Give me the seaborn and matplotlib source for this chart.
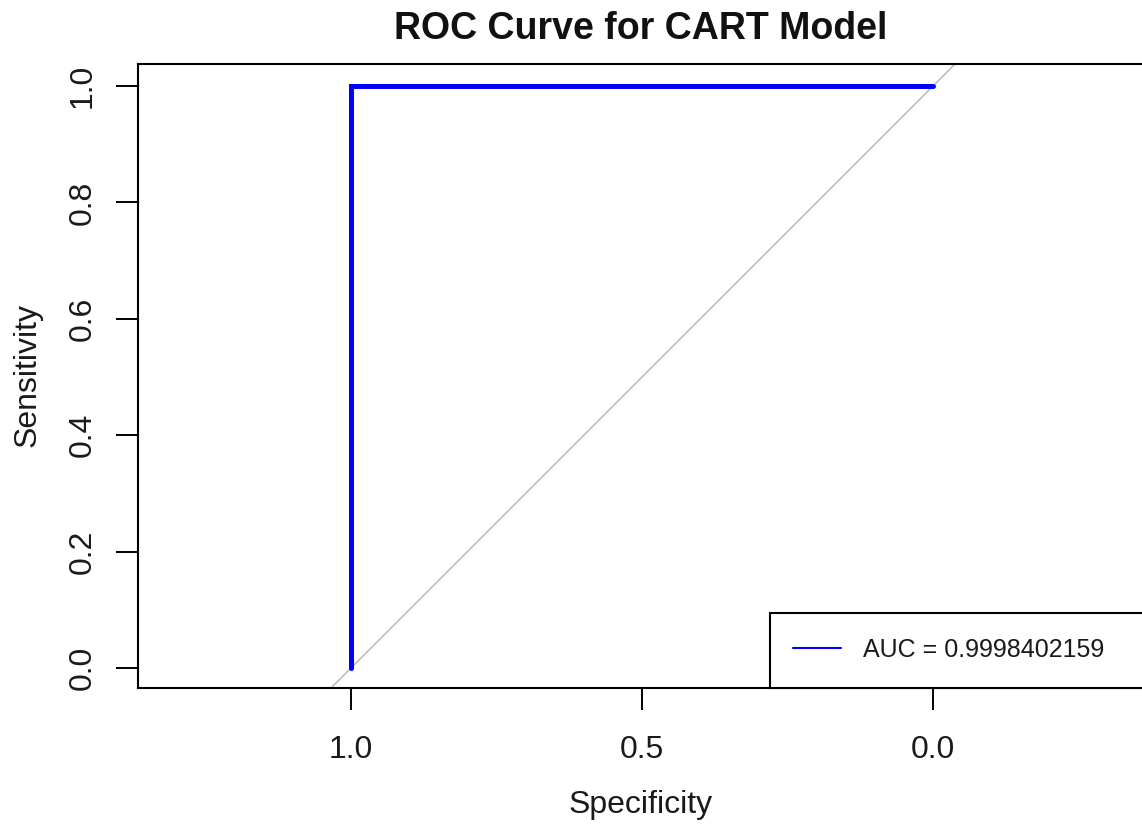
import matplotlib
matplotlib.use("Agg")
import matplotlib.pyplot as plt
from matplotlib.patches import Rectangle
import seaborn as sns
import pandas as pd

# ROC curve points for the CART classifier
specificity = [1.0, 1.0, 0.0]
sensitivity = [0.0, 1.0, 1.0]
auc_value = "0.9998402159"

x_ticks = [1.0, 0.5, 0.0]
x_tick_labels = ["1.0", "0.5", "0.0"]
y_ticks = [0.0, 0.2, 0.4, 0.6, 0.8, 1.0]
y_tick_labels = ["0.0", "0.2", "0.4", "0.6", "0.8", "1.0"]

roc = pd.DataFrame({"Specificity": specificity, "Sensitivity": sensitivity})

sns.set_style("white")
plt.rcParams["font.family"] = ["Liberation Sans", "DejaVu Sans"]

fig = plt.figure(figsize=(11.42, 8.31), dpi=100)
ax = fig.add_axes([0.12084, 0.17208, 0.8809, 0.75090])

# chance diagonal
ax.axline((1.0, 0.0), (0.0, 1.0), color="#BEBEBE", lw=1.2, zorder=1)

sns.lineplot(data=roc, x="Specificity", y="Sensitivity", sort=False,
             estimator=None, color="#0000FF", lw=3.6, ax=ax, zorder=3,
             solid_joinstyle="miter")

ax.set_xlim(1.366, -0.3625)
ax.set_ylim(-0.0344, 1.0378)

ax.set_xticks(x_ticks)
ax.set_xticklabels(x_tick_labels)
ax.set_yticks(y_ticks)
ax.set_yticklabels(y_tick_labels, rotation=90, va="center")
ax.tick_params(axis="both", direction="out", length=16, width=1.4,
               color="black", labelsize=23, labelcolor="#1a1a1a")
ax.tick_params(axis="x", bottom=True, pad=18)
ax.tick_params(axis="y", left=True, pad=13)

for side in ["left", "right", "top", "bottom"]:
    ax.spines[side].set_visible(True)
    ax.spines[side].set_color("black")
    ax.spines[side].set_linewidth(1.5)

ax.set_xlabel("Specificity", fontsize=23, va="center", color="#1a1a1a")
ax.xaxis.set_label_coords(0.5, -0.1875)
ax.set_ylabel("Sensitivity", fontsize=23, va="center", color="#1a1a1a")
ax.yaxis.set_label_coords(-0.110, 0.502)

ax.set_title("ROC Curve for CART Model", fontsize=27, fontweight="bold",
             pad=18, color="#111111")

# legend box anchored at the bottom-right corner of the plot
box = Rectangle((0.6282, 0.0), 0.6, 0.1202, transform=ax.transAxes,
                facecolor="white", edgecolor="black", lw=1.5,
                clip_on=False, zorder=4)
ax.add_patch(box)
handle = plt.Line2D([], [], color="#0000FF", lw=1.5)
leg = ax.legend([handle], [f"AUC = {auc_value}"], loc="center left",
                bbox_to_anchor=(0.651, 0.061), frameon=False, borderpad=0,
                borderaxespad=0, handlelength=1.92, handletextpad=0.88,
                fontsize=18)
leg.set_zorder(5)
for t in leg.get_texts():
    t.set_color("#1a1a1a")

fig.savefig("out.png", dpi=100)
